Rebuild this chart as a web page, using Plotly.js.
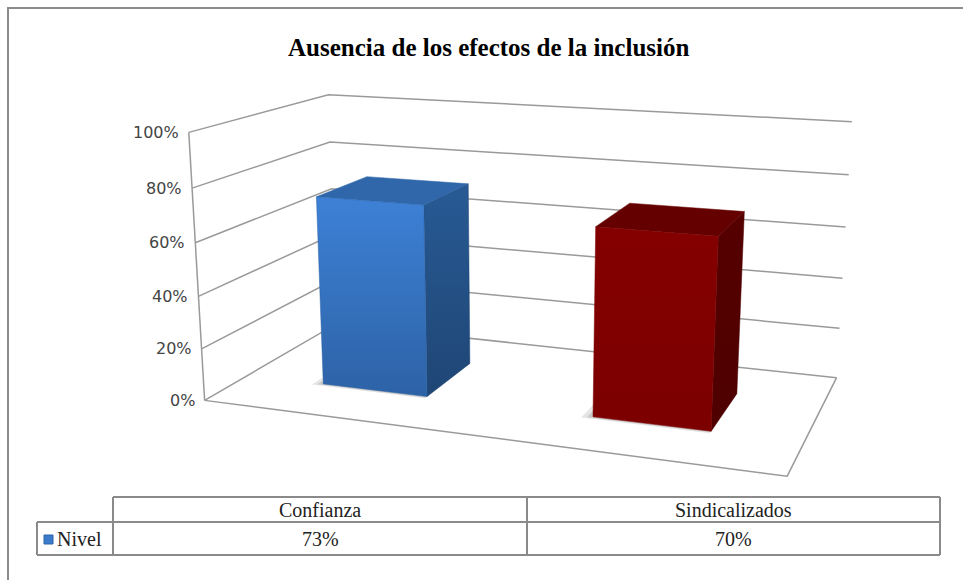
<!DOCTYPE html>
<html>
<head>
<meta charset="utf-8">
<script src="https://cdn.plot.ly/plotly-3.0.1.min.js"></script>
<style>html,body{margin:0;padding:0;background:#fff;}#chart{width:963px;height:580px;}</style>
</head>
<body>
<div id="chart"></div>
<script>
// ---------------- data ----------------
const categories = ['Confianza', 'Sindicalizados'];
const values = [0.73, 0.70];
const seriesName = 'Nivel';
const tickVals = [0, 0.2, 0.4, 0.6, 0.8, 1.0];
const tickText = ['0%', '20%', '40%', '60%', '80%', '100%'];
const titleText = 'Ausencia de los efectos de la inclusión';

// ---------------- styles ----------------
const W = 963, H = 580;
const gridColor = '#9a9a9a';
// gradient pairs: [bottom colour, top colour]
const barStyles = [
  {front: ['#2d62a6', '#3d81d6'], side: ['#1f4675', '#285a94'], top: '#2f67aa', key: '#3a7bcb'},
  {front: ['#7c0000', '#840000'], side: ['#4e0000', '#560000'], top: '#650000', key: '#820000'}
];
const barHalfWidth = 0.2, depthFront = 0.3, depthBack = 0.7;

// ---------------- 3D box projection (perspective camera calibrated to the frame) ----------------
// 3D frame: X = category position (-0.5 .. n-0.5), D = depth (0 front .. 1 back), Z = value (0..1)
const calib = [
  [-0.5, 0, 0, 204, 401], [-0.5, 0, 0.2, 202, 348], [-0.5, 0, 0.4, 199, 296],
  [-0.5, 0, 0.6, 196, 242], [-0.5, 0, 0.8, 192, 188], [-0.5, 0, 1, 188, 133],
  [-0.5, 1, 1, 328, 95], [-0.5, 1, 0.8, 330, 142], [-0.5, 1, 0.6, 332, 188], [-0.5, 1, 0, 336, 325],
  [1.5, 1, 1, 852, 122], [1.5, 1, 0.8, 849, 175], [1.5, 1, 0.6, 846, 227],
  [1.5, 1, 0.4, 842, 278], [1.5, 1, 0.2, 839, 328], [1.5, 1, 0, 837, 377],
  [1.5, 0, 0, 787, 477]
];
function solve(A, b) {
  const n = b.length;
  const M = A.map((r, i) => r.concat([b[i]]));
  for (let c = 0; c < n; c++) {
    let p = c;
    for (let r = c + 1; r < n; r++) if (Math.abs(M[r][c]) > Math.abs(M[p][c])) p = r;
    [M[c], M[p]] = [M[p], M[c]];
    for (let r = 0; r < n; r++) {
      if (r === c) continue;
      const f = M[r][c] / M[c][c];
      for (let k = c; k <= n; k++) M[r][k] -= f * M[c][k];
    }
  }
  return M.map((r, i) => r[n] / r[i]);
}
const P = (function () {
  const rows = [], rhs = [];
  calib.forEach(([X, Y, Z, u0, v0]) => {
    const u = (u0 - 500) / 400, v = (v0 - 300) / 400;
    rows.push([X, Y, Z, 1, 0, 0, 0, 0, -u * X, -u * Y, -u * Z]); rhs.push(u);
    rows.push([0, 0, 0, 0, X, Y, Z, 1, -v * X, -v * Y, -v * Z]); rhs.push(v);
  });
  const N = 11, AtA = [], Atb = [];
  for (let i = 0; i < N; i++) {
    AtA.push(new Array(N).fill(0)); Atb.push(0);
    for (let r = 0; r < rows.length; r++) {
      Atb[i] += rows[r][i] * rhs[r];
      for (let j = 0; j < N; j++) AtA[i][j] += rows[r][i] * rows[r][j];
    }
  }
  return solve(AtA, Atb);
})();
function proj(X, D, Z) {
  const den = P[8] * X + P[9] * D + P[10] * Z + 1;
  const u = (P[0] * X + P[1] * D + P[2] * Z + P[3]) / den;
  const v = (P[4] * X + P[5] * D + P[6] * Z + P[7]) / den;
  return [u * 400 + 500, v * 400 + 300];
}

const traces = [];
function line3(pts, color, width) {
  const p = pts.map(q => proj(q[0], q[1], q[2]));
  traces.push({type: 'scatter', mode: 'lines', x: p.map(a => a[0]), y: p.map(a => a[1]),
    line: {color: color, width: width}, hoverinfo: 'skip', showlegend: false});
}
function face3(pts, colors, edge) {
  const p = pts.map(q => proj(q[0], q[1], q[2]));
  p.push(p[0]);
  const grad = Array.isArray(colors);
  const t = {type: 'scatter', mode: 'lines', x: p.map(a => a[0]), y: p.map(a => a[1]),
    fill: 'toself', line: {width: edge === undefined ? 0.5 : edge, color: grad ? colors[0] : colors},
    hoverinfo: 'skip', showlegend: false};
  if (grad) {
    t.fillcolor = colors[1];
    t.fillgradient = {type: 'vertical', colorscale: [[0, colors[0]], [1, colors[1]]]};
  } else t.fillcolor = colors;
  traces.push(t);
}

const xMin = -0.5, xMax = categories.length - 0.5;
// walls: value gridlines on the back wall and the left wall
tickVals.forEach(z => {
  line3([[xMin, 0, z], [xMin, 1, z], [xMax, 1, z]], gridColor, 1.5);
});
// frame edges: left front vertical, floor edges
line3([[xMin, 0, 0], [xMin, 0, 1]], gridColor, 1.5);
line3([[xMin, 0, 0], [xMax, 0, 0], [xMax, 1, 0]], gridColor, 1.5);

// soft floor shadows, then bars (cuboids)
values.forEach((v, i) => {
  const x0 = i - barHalfWidth, x1 = i + barHalfWidth;
  face3([[x0 - 0.035, depthFront - 0.02, 0], [x1, depthFront - 0.02, 0], [x1, depthBack, 0], [x0 - 0.035, depthBack, 0]],
    'rgba(0,0,0,0.10)', 0);
  face3([[x0 - 0.018, depthFront - 0.01, 0], [x1, depthFront - 0.01, 0], [x1, depthBack, 0], [x0 - 0.018, depthBack, 0]],
    'rgba(0,0,0,0.12)', 0);
});
values.forEach((v, i) => {
  const s = barStyles[i];
  const x0 = i - barHalfWidth, x1 = i + barHalfWidth, d0 = depthFront, d1 = depthBack;
  face3([[x1, d0, 0], [x1, d1, 0], [x1, d1, v], [x1, d0, v]], s.side);
  face3([[x0, d0, v], [x1, d0, v], [x1, d1, v], [x0, d1, v]], s.top);
  face3([[x0, d0, 0], [x1, d0, 0], [x1, d0, v], [x0, d0, v]], s.front);
});

// tick labels on the front-left edge
const annotations = [];
const tickFont = {family: 'DejaVu Sans, Verdana, sans-serif', size: 16, color: '#444'};
tickVals.forEach((z, k) => {
  const p = proj(xMin, 0, z);
  annotations.push({text: tickText[k], x: p[0] - 8, y: p[1], xref: 'x', yref: 'y',
    xanchor: 'right', yanchor: 'middle', showarrow: false, font: tickFont});
});

// title
annotations.push({text: '<b>' + titleText + '</b>', x: 488, y: 47, xref: 'x', yref: 'y',
  xanchor: 'center', yanchor: 'middle', showarrow: false,
  font: {family: 'Liberation Serif, Times New Roman, serif', size: 25, color: '#000'}});

// data table below the plot
const tTop = 497, tMid = 522, tBot = 555, tL = 37, tC0 = 113, tC1 = 527, tR = 940;
const tLine = {color: '#8a8a8a', width: 2};
const hl = (x0, x1, y) => ({type: 'line', xref: 'x', yref: 'y', x0: x0, x1: x1, y0: y, y1: y, line: tLine});
const vl = (x, y0, y1) => ({type: 'line', xref: 'x', yref: 'y', x0: x, x1: x, y0: y0, y1: y1, line: tLine});
const shapes = [
  {type: 'rect', xref: 'x', yref: 'y', x0: 8, x1: 1100, y0: 8, y1: 700, line: {color: '#8c8c8c', width: 2}},
  hl(tC0, tR, tTop), hl(tL, tR, tMid), hl(tL, tR, tBot),
  vl(tL, tMid, tBot), vl(tC0, tTop, tBot), vl(tC1, tTop, tBot), vl(tR, tTop, tBot),
  {type: 'rect', xref: 'x', yref: 'y', x0: 44, x1: 53, y0: 535, y1: 544, fillcolor: barStyles[0].key,
   line: {color: barStyles[0].front[0], width: 1}}
];
const tFont = {family: 'Liberation Serif, Times New Roman, serif', size: 20, color: '#222'};
const colCenters = [(tC0 + tC1) / 2, (tC1 + tR) / 2];
annotations.push({text: seriesName, x: 55, y: 539, xref: 'x', yref: 'y', xanchor: 'left', yanchor: 'middle',
  showarrow: false, font: tFont});
categories.forEach((c, i) => {
  annotations.push({text: c, x: colCenters[i], y: 510, xref: 'x', yref: 'y', xanchor: 'center', yanchor: 'middle',
    showarrow: false, font: tFont});
  annotations.push({text: Math.round(values[i] * 100) + '%', x: colCenters[i], y: 539, xref: 'x', yref: 'y',
    xanchor: 'center', yanchor: 'middle', showarrow: false, font: tFont});
});

const layout = {
  width: W, height: H,
  margin: {l: 0, r: 0, t: 0, b: 0, pad: 0},
  paper_bgcolor: '#fff', plot_bgcolor: '#fff',
  showlegend: false,
  xaxis: {range: [0, W], visible: false, fixedrange: true},
  yaxis: {range: [H, 0], visible: false, fixedrange: true},
  shapes: shapes,
  annotations: annotations
};

Plotly.newPlot('chart', traces, layout, {displayModeBar: false, staticPlot: true});
</script>
</body>
</html>
